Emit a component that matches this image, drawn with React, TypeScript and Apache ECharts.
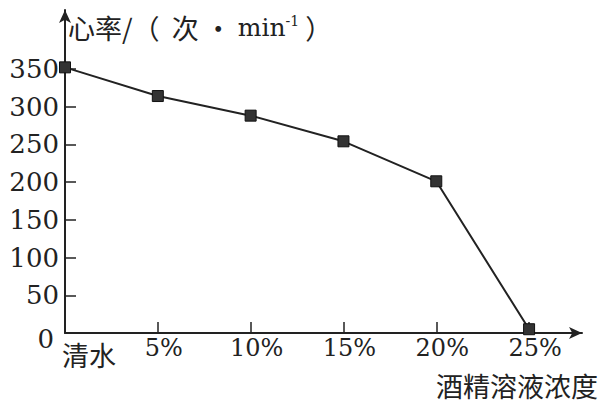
import React, { useEffect, useRef } from "react";
import * as echarts from "echarts";

const categories = ["清水", "5%", "10%", "15%", "20%", "25%"];
const heartRates = [352, 314, 288, 254, 201, 5];
const yTickLabels = [0, 50, 100, 150, 200, 250, 300, 350];
const yTickMarks = [50, 100, 150, 200, 250, 300, 350];
const yAxisTitleParts = ["心率/（  次 · ", "min", "-1", " ）"];
const xAxisTitle = "酒精溶液浓度";

export default function App() {
  const ref = useRef<HTMLDivElement>(null);
  useEffect(() => {
    const chart = echarts.init(ref.current!, null, { renderer: "svg" });
    const serif = "'DejaVu Serif', 'Liberation Serif', serif";
    const cjk = "'Noto Sans CJK SC', sans-serif";
    const ink = "#222";
    const idx = categories.map((_, i) => i);
    chart.setOption({
      animation: false,
      backgroundColor: "#ffffff",
      title: {
        text: xAxisTitle,
        right: 4,
        bottom: 7,
        padding: 0,
        textStyle: { fontFamily: cjk, fontSize: 27, lineHeight: 27, fontWeight: "normal", color: ink },
      },
      grid: { left: 65, right: 20, top: 10, bottom: 73, containLabel: false },
      xAxis: {
        type: "value",
        min: 0,
        max: 5.57,
        axisLine: {
          lineStyle: { color: ink, width: 2 },
          symbol: ["none", "arrow"],
          symbolSize: [9, 13],
        },
        axisTick: {
          inside: true,
          length: 11,
          lineStyle: { color: ink, width: 1.5 },
          customValues: idx.slice(1),
        },
        axisLabel: {
          customValues: idx,
          margin: 3,
          padding: [0, 0, 0, 12],
          color: ink,
          fontFamily: serif,
          fontSize: 24,
          lineHeight: 24,
          formatter: (v: number) => {
            const i = Math.round(v);
            return i === 0 ? `{q|${categories[0]}}` : categories[i];
          },
          rich: {
            q: { fontFamily: cjk, fontSize: 27, lineHeight: 27, color: ink, padding: [9, 0, 0, 36] },
          },
        },
        splitLine: { show: false },
      },
      yAxis: {
        type: "value",
        min: 0,
        max: 428,
        axisLine: {
          show: true,
          lineStyle: { color: ink, width: 2 },
          symbol: ["none", "arrow"],
          symbolSize: [9, 13],
        },
        axisTick: {
          show: true,
          inside: true,
          length: 11,
          lineStyle: { color: ink, width: 1.5 },
          customValues: yTickMarks,
        },
        axisLabel: {
          customValues: yTickLabels,
          margin: 6,
          color: ink,
          fontFamily: serif,
          fontSize: 26,
          formatter: (v: number) => (v === 0 ? `{z|0}` : String(v)),
          rich: {
            z: { fontFamily: serif, fontSize: 26, color: ink, padding: [12, 5, 0, 0] },
          },
        },
        splitLine: { show: false },
        name:
          `{c|${yAxisTitleParts[0]}}{m|${yAxisTitleParts[1]}}{s|${yAxisTitleParts[2]}}{c|${yAxisTitleParts[3]}}`,
        nameLocation: "end",
        nameGap: -17,
        nameTextStyle: {
          align: "left",
          verticalAlign: "middle",
          padding: [0, 0, 0, 3],
          color: ink,
          rich: {
            c: { fontFamily: cjk, fontSize: 27, color: ink },
            m: { fontFamily: serif, fontSize: 25, color: ink },
            s: { fontFamily: serif, fontSize: 14, color: ink, verticalAlign: "top", padding: [0, 0, 12, 0] },
          },
        },
      },
      series: [
        {
          type: "line",
          data: heartRates.map((v, i) => [i, v]),
          symbol: "rect",
          symbolSize: 11,
          itemStyle: { color: "#333", borderColor: "#111", borderWidth: 1 },
          lineStyle: { color: ink, width: 2 },
        },
      ],
    });
    return () => chart.dispose();
  }, []);
  return (
    <div
      ref={ref}
      style={{ position: "fixed", left: 0, top: 0, width: 602, height: 406, background: "#fff" }}
    />
  );
}
